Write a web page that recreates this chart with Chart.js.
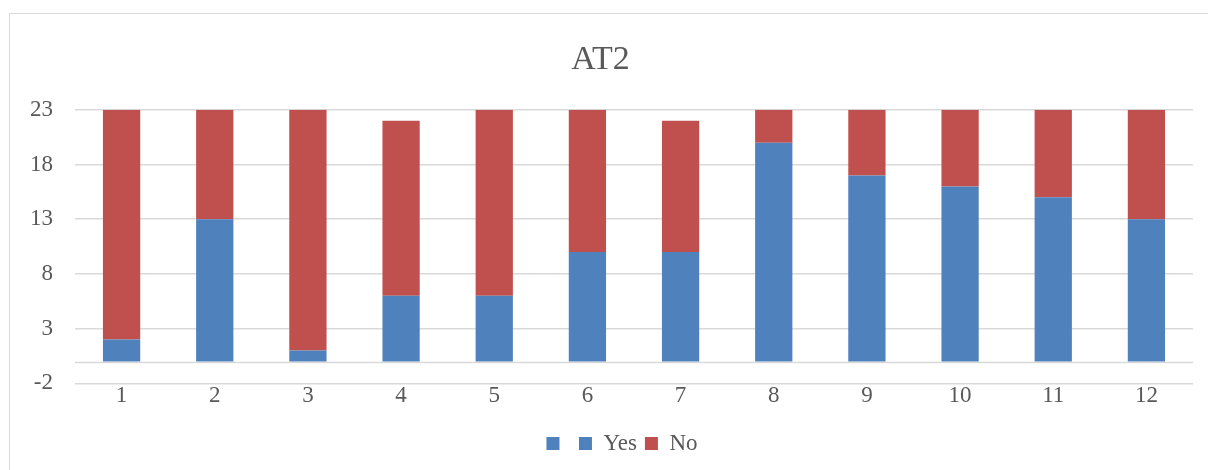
<!DOCTYPE html>
<html>
<head>
<meta charset="utf-8">
<title>AT2</title>
<script src="https://cdn.jsdelivr.net/npm/chart.js@4.4.1/dist/chart.umd.min.js"></script>
<style>
  html, body { margin: 0; padding: 0; background: #ffffff; }
  #wrap { position: relative; width: 1208px; height: 470px; }
  #frame { position: absolute; left: 9px; top: 13px; width: 1200px; height: 470px;
           border-left: 1px solid #d9d9d9; border-top: 1px solid #d9d9d9; box-sizing: border-box; }
  #c { position: absolute; left: 0; top: 0; }
</style>
</head>
<body>
<div id="wrap">
  <div id="frame"></div>
  <canvas id="c" width="1208" height="470"></canvas>
</div>
<script>
// Categories and stacked series
const categories = ['1', '2', '3', '4', '5', '6', '7', '8', '9', '10', '11', '12'];
const yesValues = [2, 13, 1, 6, 6, 10, 10, 20, 17, 16, 15, 13];
const noValues  = [21, 10, 22, 16, 17, 13, 12, 3, 6, 7, 8, 10];
const blankValues = [];
const yTickMin = -2;
const yTickMax = 23;
const yTickStep = 5;

const BLUE = '#4F81BD';
const RED = '#C0504D';
const GRID = '#d9d9d9';
const TEXT = '#595959';
const FONT = "'Liberation Serif', 'DejaVu Serif', serif";

// Horizontal axis line drawn at value zero
const zeroLine = {
  id: 'zeroLine',
  beforeDatasetsDraw(chart) {
    const { ctx, chartArea, scales } = chart;
    const y = Math.round(scales.y.getPixelForValue(0)) + 0.5;
    ctx.save();
    ctx.strokeStyle = GRID;
    ctx.lineWidth = 1.5;
    ctx.beginPath();
    ctx.moveTo(chartArea.left, y);
    ctx.lineTo(chartArea.right, y);
    ctx.stroke();
    ctx.restore();
  }
};

// Center the legend under the plot area rather than the whole canvas
const legendUnderPlot = {
  id: 'legendUnderPlot',
  afterLayout(chart) {
    const lg = chart.legend;
    if (!lg) return;
    const shift = (chart.chartArea.left + chart.chartArea.right) / 2 - (lg.left + lg.right) / 2 - 12;
    lg.left += shift;
    lg.right += shift;
    if (lg.legendHitBoxes) lg.legendHitBoxes.forEach(b => { b.left += shift; });
  }
};

new Chart(document.getElementById('c'), {
  type: 'bar',
  data: {
    labels: categories,
    datasets: [
      { label: '', data: blankValues, backgroundColor: BLUE, stack: 's' },
      { label: 'Yes', data: yesValues, backgroundColor: BLUE, stack: 's' },
      { label: 'No', data: noValues, backgroundColor: RED, stack: 's' }
    ]
  },
  options: {
    responsive: false,
    animation: false,
    layout: { padding: { left: 8, right: 15, top: 22, bottom: 5 } },
    datasets: { bar: { categoryPercentage: 0.4, barPercentage: 1.0 } },
    plugins: {
      title: {
        display: true,
        text: 'AT2',
        color: TEXT,
        font: { family: FONT, size: 34, weight: 'normal' },
        padding: { top: 18, bottom: 29 }
      },
      legend: {
        position: 'bottom',
        labels: {
          color: TEXT,
          font: { family: FONT, size: 23 },
          boxWidth: 13,
          boxHeight: 13,
          padding: 8
        }
      },
      tooltip: { enabled: false }
    },
    scales: {
      x: {
        stacked: true,
        grid: { display: false, drawTicks: false },
        border: { display: false },
        ticks: { color: TEXT, font: { family: FONT, size: 23 }, padding: -1 },
        afterFit(scale) { scale.height += 15; }
      },
      y: {
        stacked: true,
        min: yTickMin,
        max: yTickMax,
        ticks: { stepSize: yTickStep, color: TEXT, font: { family: FONT, size: 23 }, padding: 22 },
        grid: { color: GRID, lineWidth: 1.5, drawTicks: false },
        border: { display: false }
      }
    }
  },
  plugins: [zeroLine, legendUnderPlot]
});
</script>
</body>
</html>
